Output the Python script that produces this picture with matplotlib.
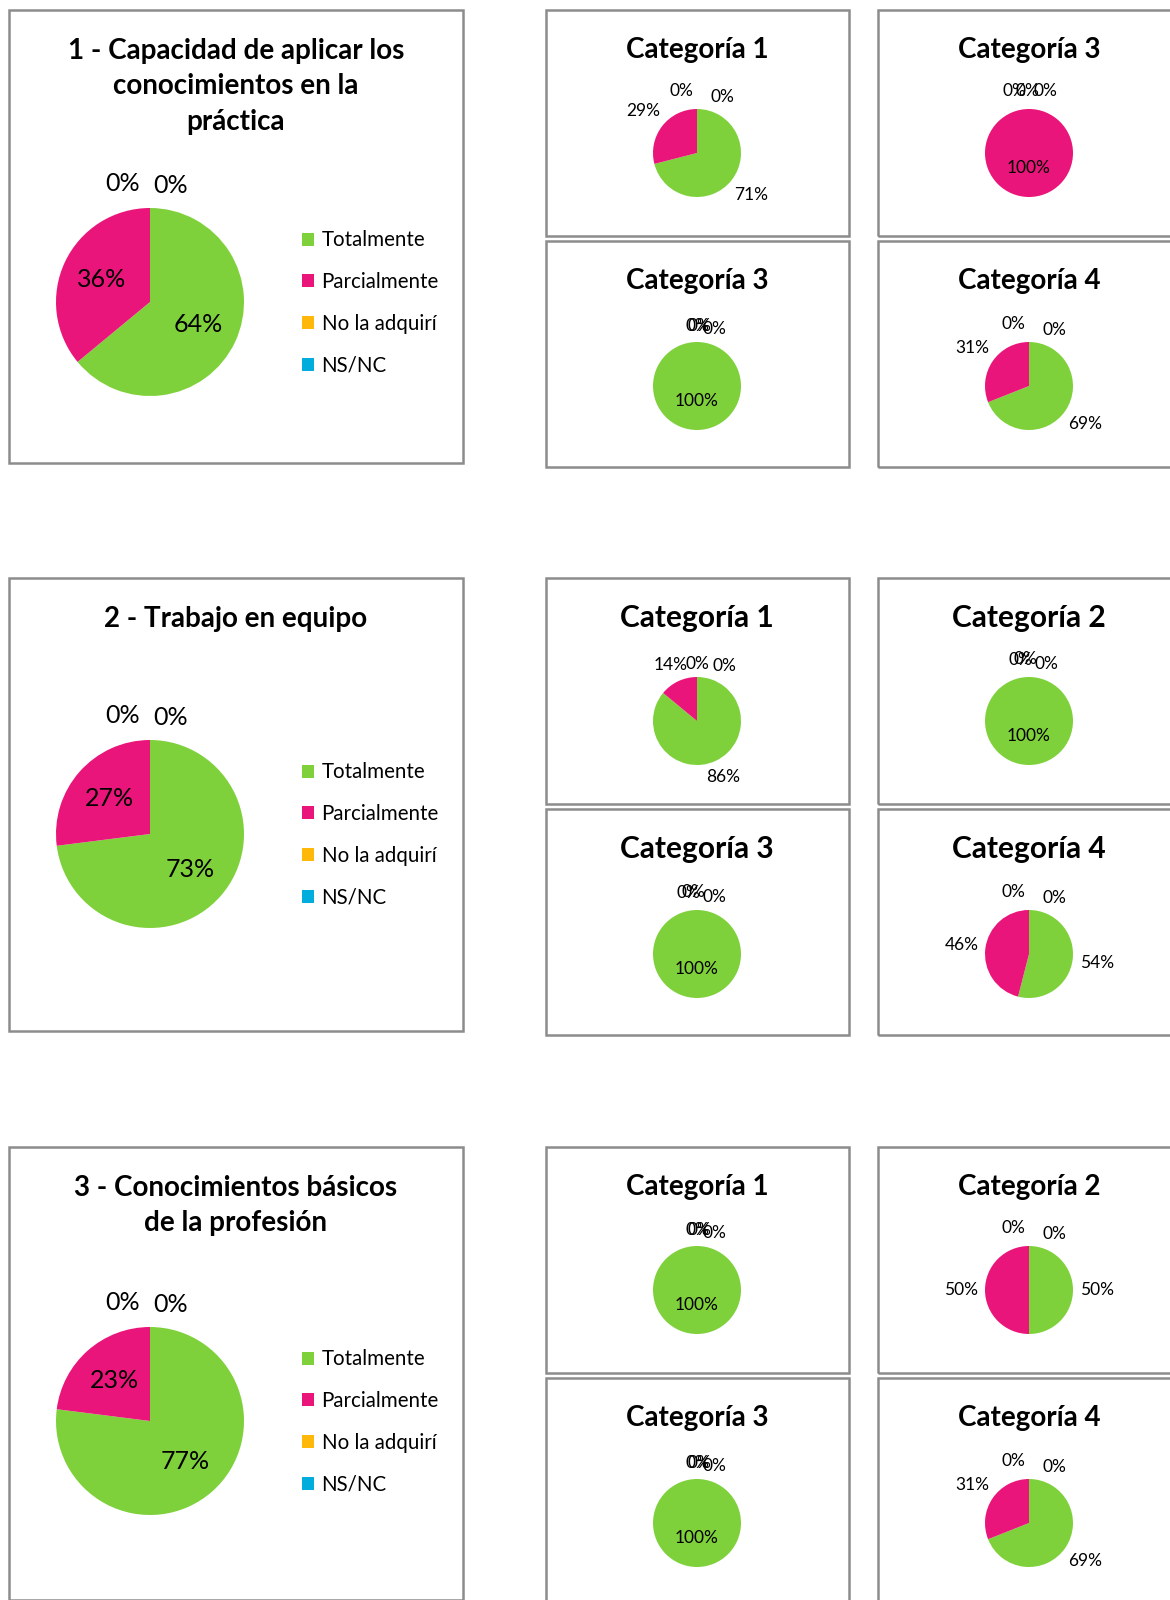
import numpy as np
import matplotlib
matplotlib.use('Agg')
import matplotlib.pyplot as plt
from matplotlib.patches import Rectangle

plt.rcParams['font.family'] = ['Lato', 'DejaVu Sans']

# ---------------- data ----------------
categories = ['Totalmente', 'Parcialmente', 'No la adquirí', 'NS/NC']
colors = ['#7FD13B', '#EA157A', '#FEB80A', '#00ADDC']

main_titles = ['1 - Capacidad de aplicar los\nconocimientos en la\npráctica',
               '2 - Trabajo en equipo',
               '3 - Conocimientos básicos\nde la profesión']
main_values = [[64, 36, 0, 0],
               [73, 27, 0, 0],
               [77, 23, 0, 0]]

g1_titles = ['Categoría 1', 'Categoría 3', 'Categoría 3', 'Categoría 4']
g1_cat1 = [71, 29, 0, 0]
g1_cat3a = [0, 100, 0, 0]
g1_cat3b = [100, 0, 0, 0]
g1_cat4 = [69, 31, 0, 0]

g2_titles = ['Categoría 1', 'Categoría 2', 'Categoría 3', 'Categoría 4']
g2_cat1 = [86, 14, 0, 0]
g2_cat2 = [100, 0, 0, 0]
g2_cat3 = [100, 0, 0, 0]
g2_cat4 = [54, 46, 0, 0]

g3_titles = ['Categoría 1', 'Categoría 2', 'Categoría 3', 'Categoría 4']
g3_cat1 = [100, 0, 0, 0]
g3_cat2 = [50, 50, 0, 0]
g3_cat3 = [100, 0, 0, 0]
g3_cat4 = [69, 31, 0, 0]

sub_titles = [g1_titles, g2_titles, g3_titles]
sub_values = [[g1_cat1, g1_cat3a, g1_cat3b, g1_cat4],
              [g2_cat1, g2_cat2, g2_cat3, g2_cat4],
              [g3_cat1, g3_cat2, g3_cat3, g3_cat4]]

# ---------------- layout (pixels) ----------------
W, H = 1170, 1600
fig = plt.figure(figsize=(W / 100, H / 100), dpi=100)
fig.patch.set_facecolor('white')

group_top = [10, 578, 1147]
main_pie_rel = [292, 256, 274]
legend_rel = [293, 257, 275]
sub_title_fs = [20, 21.5, 20]
BORDER = '#8c8c8c'


def fx(x):
    return x / W


def fy(y):
    return 1 - y / H


def box(x0, y0, x1, y1):
    fig.patches.append(Rectangle((fx(x0), fy(y1)), (x1 - x0) / W, (y1 - y0) / H,
                                 transform=fig.transFigure, fill=False,
                                 ec=BORDER, lw=1.8, zorder=0))


def pie_at(cx, cy, r, vals, ext):
    side = 2 * ext * r
    ax = fig.add_axes([fx(cx - side / 2), fy(cy + side / 2), side / W, side / H])
    wedges, _ = ax.pie(vals, colors=colors, startangle=90, counterclock=False,
                       wedgeprops=dict(linewidth=0))
    ax.set_xlim(-ext, ext)
    ax.set_ylim(-ext, ext)
    ax.set_aspect('equal')
    ax.axis('off')
    return ax, wedges


# label offsets (in pie radii) for the 0 % labels that sit at the top
ZERO_BIG = [(-0.29, 1.26), (0.22, 1.24)]
ZERO_SMALL = {2: [(-0.35, 1.41), (0.58, 1.28)],
              3: [(0.0, 1.37), (0.06, 1.37), (0.40, 1.30)]}
ZERO_OVERRIDE = {(0, 1): [(-0.33, 1.40), (-0.03, 1.40), (0.37, 1.40)],
                 (1, 0): [(0.02, 1.30), (0.63, 1.26)],
                 (1, 1): [(-0.2, 1.38), (-0.08, 1.40), (0.40, 1.30)],
                 (1, 2): [(-0.2, 1.38), (-0.08, 1.40), (0.40, 1.30)]}
R_OUT_OVERRIDE = {(1, 0): 1.40}


def add_labels(ax, wedges, vals, r_out, zero_pos, fs, r_full=0.35):
    zi = 0
    for w, v in zip(wedges, vals):
        if v == 0:
            x, y = zero_pos[zi]
            zi += 1
        else:
            mid = np.deg2rad((w.theta1 + w.theta2) / 2)
            rr = r_full if v == 100 else r_out
            x, y = rr * np.cos(mid), rr * np.sin(mid)
        ax.text(x, y, f'{v}%', ha='center', va='center', fontsize=fs, color='black')


for g in range(3):
    T = group_top[g]
    # big panel
    box(9, T, 463, T + 453)
    fig.text(fx(236), fy(T + 28), main_titles[g], ha='center', va='top',
             fontsize=20, fontweight='bold', linespacing=1.45)
    ax, wedges = pie_at(150, T + main_pie_rel[g], 94, main_values[g], 1.6)
    add_labels(ax, wedges, main_values[g], 0.57, ZERO_BIG, 18)
    fig.legend(wedges, categories, loc='center left',
               bbox_to_anchor=(fx(302), fy(T + legend_rel[g])),
               frameon=False, fontsize=14.8, handlelength=0.6, handleheight=0.6,
               handletextpad=0.35, labelspacing=1.06, borderpad=0, borderaxespad=0)

    # small panels
    centers = [(697, 143, 0, 0), (1029, 143, 0, 1), (697, 376, 1, 0), (1029, 376, 1, 1)]
    for k, (cx, cyr, row, col) in enumerate(centers):
        x0 = 546 if col == 0 else 878
        y0 = T + (0 if row == 0 else 231)
        box(x0, y0, x0 + 303, y0 + 226)
        fig.text(fx(cx), fy(y0 + 40), sub_titles[g][k], ha='center', va='center',
                 fontsize=sub_title_fs[g], fontweight='bold')
        vals = sub_values[g][k]
        ax, wedges = pie_at(cx, T + cyr, 44, vals, 2.0)
        nz = sum(1 for v in vals if v == 0)
        zpos = ZERO_OVERRIDE.get((g, k), ZERO_SMALL[nz])
        add_labels(ax, wedges, vals, R_OUT_OVERRIDE.get((g, k), 1.55), zpos, 12.5)

fig.savefig('out.png', dpi=100, facecolor='white')
